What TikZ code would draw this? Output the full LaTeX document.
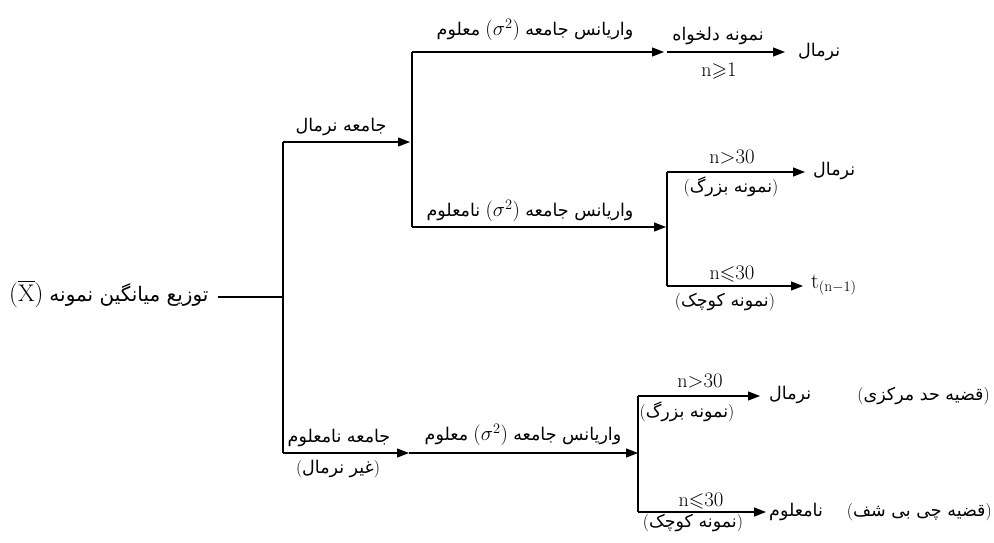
\documentclass[tikz,border=0pt]{standalone}
\usepackage{amssymb}
\usepackage{fontspec}
\usetikzlibrary{arrows.meta}
\TeXXeTstate=1
\newfontfamily\fafont[Script=Arabic]{DejaVu Sans}
\newcommand{\FA}[1]{{\fafont\beginR #1\endR}}
\newcommand{\MM}[1]{{\fontsize{20}{22}\selectfont$#1$}}
\tikzset{
  lbl/.style={inner sep=1pt, font=\fontsize{17.5}{20}\selectfont},
  ln/.style={line width=1.2pt},
  arr/.style={line width=1.2pt, -{Triangle[length=12pt,width=9pt]}}
}
\begin{document}
\begin{tikzpicture}[x=1pt,y=-1pt]
\useasboundingbox[fill=white] (0,0) rectangle (994,542);
% junction coordinates
\coordinate (j0) at (283,297);
\coordinate (a1) at (283,142);
\coordinate (a2) at (283,453);
\coordinate (ta1) at (410,142);
\coordinate (b1) at (412,52);
\coordinate (b2) at (412,227);
\coordinate (tb1) at (664,52);
\coordinate (s1) at (667,52);
\coordinate (ts1) at (785,52);
\coordinate (tb2) at (666,227);
\coordinate (c1) at (667,172);
\coordinate (c2) at (667,286);
\coordinate (tc1) at (805,172);
\coordinate (tc2) at (803,286);
\coordinate (ta2) at (409,453);
\coordinate (td) at (638,453);
\coordinate (d1) at (638,396);
\coordinate (d2) at (638,512);
\coordinate (td1) at (760,396);
\coordinate (td2) at (766,512);

% texts
\node[lbl, font=\fontsize{20}{23}\selectfont, anchor=west] (root) at (8,294) {{\fontsize{24}{26}\selectfont$(\overline{\mathrm{X}})$}\ \FA{توزیع میانگین نمونه}};
\node[lbl] (l1) at (341,127) {\FA{جامعه نرمال}};
\node[lbl] (l2) at (535,30) {\FA{معلوم} \MM{(\sigma^{2})} \FA{واریانس جامعه}};
\node[lbl] (l3) at (718,36) {\FA{نمونه دلخواه}};
\node[lbl] (l3b) at (719,71) {\MM{\mathrm{n}{\geqslant}1}};
\node[lbl, anchor=west] (r1) at (797,52) {\FA{نرمال}};
\node[lbl] (l4) at (530,211) {\FA{نامعلوم} \MM{(\sigma^{2})} \FA{واریانس جامعه}};
\node[lbl] (l5) at (732,157) {\MM{\mathrm{n}{>}30}};
\node[lbl] (l5b) at (731,187) {(\FA{نمونه بزرگ})};
\node[lbl, anchor=west] (r2) at (812,171) {\FA{نرمال}};
\node[lbl] (l6) at (732,274) {\MM{\mathrm{n}{\leqslant}30}};
\node[lbl] (l6b) at (725,302) {(\FA{نمونه کوچک})};
\node[lbl, anchor=west] (r3) at (810,285) {{\fontsize{22}{24}\selectfont$\mathrm{t}_{(\mathrm{n}-1)}$}};
\node[lbl] (l7) at (339,438) {\FA{جامعه نامعلوم}};
\node[lbl] (l7b) at (338,469) {(\FA{غیر نرمال})};
\node[lbl] (l8) at (523,435) {\FA{معلوم} \MM{(\sigma^{2})} \FA{واریانس جامعه}};
\node[lbl] (l9) at (700,381) {\MM{\mathrm{n}{>}30}};
\node[lbl] (l9b) at (687,412) {(\FA{نمونه بزرگ})};
\node[lbl, anchor=west] (r4) at (768,395) {\FA{نرمال}};
\node[lbl, anchor=east] (r4b) at (991,396) {(\FA{قضیه حد مرکزی})};
\node[lbl] (l10) at (701,501) {\MM{\mathrm{n}{\leqslant}30}};
\node[lbl] (l10b) at (693,523) {(\FA{نمونه کوچک})};
\node[lbl, anchor=west] (r5) at (768,512) {\FA{نامعلوم}};
\node[lbl, anchor=east] (r5b) at (993,512) {(\FA{قضیه چی بی شف})};

% connectors
\draw[ln] ([xshift=8pt]root.east |- j0) -- (j0);
\draw[ln] (a1) -- (a2);
\draw[arr] (a1) -- (ta1);
\draw[ln] (b1) -- (b2);
\draw[arr] (b1) -- (tb1);
\draw[arr] (s1) -- (ts1);
\draw[arr] (b2) -- (tb2);
\draw[ln] (c1) -- (c2);
\draw[arr] (c1) -- (tc1);
\draw[arr] (c2) -- (tc2);
\draw[arr] (a2) -- (ta2);
\draw[arr] (ta2) -- (td);
\draw[ln] (d1) -- (d2);
\draw[arr] (d1) -- (td1);
\draw[arr] (d2) -- (td2);
\end{tikzpicture}
\end{document}
